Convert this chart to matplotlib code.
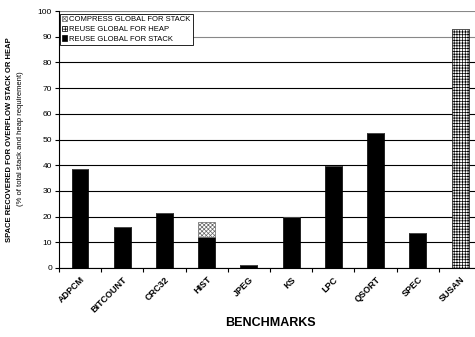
import matplotlib
matplotlib.use("Agg")
import matplotlib.pyplot as plt
import numpy as np

plt.rcParams['font.family'] = ['Liberation Sans', 'DejaVu Sans']
plt.rcParams['hatch.linewidth'] = 0.5

benchmarks = ["ADPCM", "BITCOUNT", "CRC32", "HIST", "JPEG", "KS", "LPC", "QSORT", "SPEC", "SUSAN"]
reuse_stack = [38.5, 16, 21.5, 12, 1, 20, 39.5, 52.5, 13.5, 0]
reuse_heap = [0, 0, 0, 0, 0, 0, 0, 0, 0, 93]
compress_stack = [0, 0, 0, 6, 0, 0, 0, 0, 0, 0]
yticks = [0, 10, 20, 30, 40, 50, 60, 70, 80, 90, 100]

fig = plt.figure(figsize=(4.75, 3.37), dpi=100)
ax = fig.add_axes([0.124, 0.205, 0.889, 0.762])

x = np.arange(len(benchmarks))
w = 0.4
b1 = ax.bar(x, reuse_stack, w, color='black', edgecolor='black', linewidth=0.5, label='REUSE GLOBAL FOR STACK', zorder=3)
bottom2 = np.array(reuse_stack)
b2 = ax.bar(x, reuse_heap, w, bottom=bottom2, color='white', edgecolor='black', hatch='++++++', linewidth=0.5, label='REUSE GLOBAL FOR HEAP', zorder=3)
bottom3 = bottom2 + np.array(reuse_heap)
b3 = ax.bar(x, compress_stack, w, bottom=bottom3, color='white', edgecolor='#666666', hatch='xxxxxxxx', linewidth=0.5, label='COMPRESS GLOBAL FOR STACK', zorder=3)

ax.set_xlim(-0.5, 9.5)
ax.set_ylim(0, 100)
ax.set_yticks(yticks)
ax.tick_params(axis='y', labelsize=6, length=3, width=0.8, pad=2)
ax.set_xticks(np.arange(-0.5, 10, 1), minor=False)
ax.set_xticklabels([])
ax.set_xticks(x, minor=True)
ax.set_xticklabels(benchmarks, minor=True, rotation=45, ha='right', rotation_mode='anchor', fontsize=6.5, fontweight='bold')
ax.tick_params(axis='x', which='minor', length=0, pad=5)
ax.tick_params(axis='x', which='major', length=3, width=0.8, direction='out')
ax.yaxis.grid(True, color='black', linewidth=0.8, zorder=0)
gl = ax.yaxis.get_gridlines()
gl[-1].set_color('#888888')
gl[-2].set_color('#888888')
ax.set_axisbelow(True)
for s in ['top', 'right']:
    ax.spines[s].set_visible(False)
ax.spines['left'].set_linewidth(0.8)
ax.spines['bottom'].set_linewidth(0.8)

ax.set_xlabel("BENCHMARKS", fontsize=9, fontweight='bold', labelpad=2)

fig.text(0.020, 0.587, "SPACE RECOVERED FOR OVERFLOW STACK OR HEAP", rotation=90, fontsize=5.5, fontweight='bold', ha='center', va='center')
fig.text(0.044, 0.587, "(% of total stack and heap requirement)", rotation=90, fontsize=5.5, ha='center', va='center')

leg = ax.legend(handles=[b3, b2, b1], loc='upper left', bbox_to_anchor=(0.002, 0.99), fontsize=5.5,
                frameon=True, fancybox=False, edgecolor='black', framealpha=1,
                handlelength=0.7, handleheight=0.7, handletextpad=0.2, borderpad=0.3, labelspacing=0.3, borderaxespad=0)
leg.get_frame().set_linewidth(0.6)

fig.savefig("out.png", dpi=100)
